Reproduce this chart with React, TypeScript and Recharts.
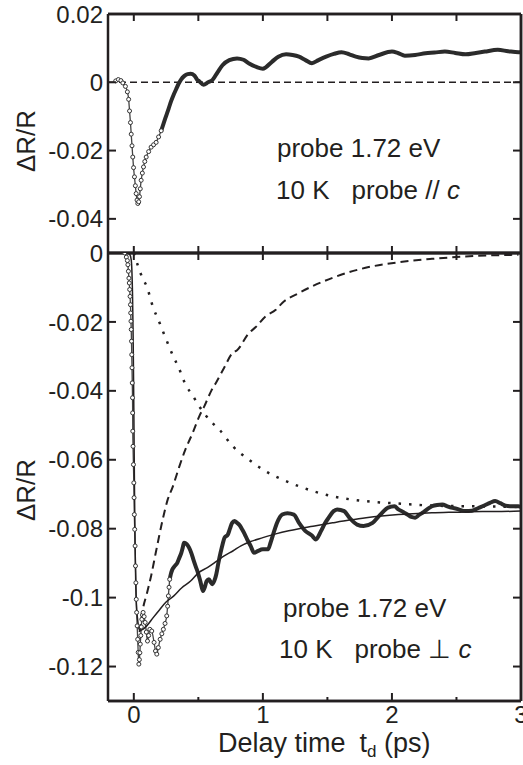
import React from "react";
import { ComposedChart, Line, XAxis, YAxis, ReferenceLine } from "recharts";

const INK = "#231f20";
const FONT = '"Liberation Sans", Arial, Helvetica, sans-serif';

// axes
const timeDomain = [-0.2, 3];
const timeTicks = [0, 0.5, 1, 1.5, 2, 2.5, 3];
const topYDomain = [-0.05, 0.02];
const topYTicks = [0.02, 0, -0.02, -0.04];
const bottomYDomain = [-0.13, 0];
const bottomYTicks = [0, -0.02, -0.04, -0.06, -0.08, -0.1, -0.12];

// probe // c  -> [delay (ps), dR/R]
const parOnset = [
  [-0.14, 0.0004], [-0.12, 0.0008], [-0.1, 0.0005], [-0.085, -0.0002], [-0.065, -0.0012],
  [-0.05, -0.0028], [-0.04, -0.005], [-0.033, -0.0084], [-0.026, -0.0118], [-0.02, -0.0152],
  [-0.014, -0.0186], [-0.008, -0.0219], [-0.002, -0.025], [0.005, -0.0277], [0.012, -0.0303],
  [0.018, -0.0326], [0.025, -0.0345], [0.031, -0.0355], [0.038, -0.035], [0.044, -0.0335],
  [0.05, -0.0312], [0.057, -0.0287], [0.066, -0.0266], [0.075, -0.0248], [0.085, -0.0232],
  [0.096, -0.0219], [0.115, -0.0203], [0.134, -0.019], [0.153, -0.0183], [0.173, -0.0176],
  [0.192, -0.016], [0.212, -0.0142],
];
const parTail = [
  [0.212, -0.0142], [0.231, -0.012], [0.25, -0.0099], [0.27, -0.0077], [0.289, -0.0055],
  [0.308, -0.0037], [0.327, -0.0021], [0.346, -0.0005], [0.366, 0.0008], [0.39, 0.0018],
  [0.417, 0.0024], [0.44, 0.0025], [0.469, 0.002], [0.49, 0.0008], [0.507, 0.0003],
  [0.54, -0.0007], [0.575, 0.0], [0.61, 0.0007], [0.65, 0.003], [0.687, 0.005],
  [0.74, 0.0065], [0.8, 0.007], [0.85, 0.0066], [0.893, 0.0055], [0.95, 0.0045],
  [1.0, 0.004], [1.07, 0.006], [1.12, 0.0075], [1.18, 0.0082], [1.23, 0.008],
  [1.28, 0.0075], [1.33, 0.0065], [1.38, 0.0056], [1.43, 0.0065], [1.49, 0.0075],
  [1.55, 0.0083], [1.61, 0.0088], [1.67, 0.0082], [1.72, 0.0075], [1.77, 0.0071],
  [1.82, 0.007], [1.9, 0.008], [2.0, 0.009], [2.05, 0.0085], [2.1, 0.0078],
  [2.18, 0.008], [2.26, 0.0085], [2.33, 0.0087], [2.41, 0.009], [2.49, 0.0086],
  [2.57, 0.0082], [2.65, 0.0086], [2.72, 0.009], [2.82, 0.0095], [2.9, 0.0091],
  [2.98, 0.0088], [3.0, 0.0089],
];

// probe ⊥ c
const perpOnset = [
  [-0.085, 0.0005], [-0.07, 0.0], [-0.058, -0.0012], [-0.05, -0.0022], [-0.046, -0.0034],
  [-0.042, -0.0053], [-0.038, -0.0073], [-0.035, -0.0087], [-0.032, -0.0106], [-0.029, -0.0126],
  [-0.026, -0.015], [-0.024, -0.0174], [-0.022, -0.0198], [-0.02, -0.0222], [-0.018, -0.0256],
  [-0.016, -0.0295], [-0.014, -0.0333], [-0.012, -0.0377], [-0.01, -0.042], [-0.009, -0.0464],
  [-0.008, -0.0517], [-0.006, -0.0561], [-0.003, -0.0614], [0.0, -0.0667], [0.002, -0.071],
  [0.004, -0.0759], [0.007, -0.0802], [0.01, -0.085], [0.013, -0.0908], [0.016, -0.0957],
  [0.019, -0.1005], [0.022, -0.1043], [0.026, -0.1082], [0.03, -0.1121], [0.034, -0.1159],
  [0.039, -0.1193], [0.043, -0.118], [0.047, -0.116], [0.05, -0.1135], [0.054, -0.111],
  [0.058, -0.1085], [0.062, -0.1063], [0.067, -0.105], [0.072, -0.1043], [0.08, -0.1055],
  [0.088, -0.1072], [0.097, -0.11], [0.106, -0.1126], [0.115, -0.111], [0.124, -0.1092],
  [0.139, -0.1097], [0.157, -0.113], [0.168, -0.1155], [0.178, -0.1164], [0.19, -0.1145],
  [0.204, -0.1121], [0.217, -0.1105], [0.229, -0.1092], [0.242, -0.1075], [0.255, -0.1053],
  [0.262, -0.1025], [0.268, -0.0995], [0.273, -0.097], [0.278, -0.0947],
];
const perpTail = [
  [0.278, -0.0947], [0.288, -0.093], [0.299, -0.0918], [0.318, -0.0908], [0.337, -0.0899],
  [0.352, -0.0885], [0.368, -0.087], [0.379, -0.0855], [0.389, -0.0841], [0.41, -0.0845],
  [0.428, -0.0855], [0.445, -0.087], [0.461, -0.0889], [0.48, -0.091], [0.497, -0.0928],
  [0.517, -0.0955], [0.536, -0.0981], [0.55, -0.097], [0.564, -0.0952], [0.582, -0.0947],
  [0.595, -0.0955], [0.608, -0.0961], [0.625, -0.095], [0.639, -0.0932], [0.655, -0.09],
  [0.672, -0.087], [0.688, -0.0845], [0.703, -0.0826], [0.729, -0.0817], [0.745, -0.08],
  [0.762, -0.0783], [0.78, -0.0778], [0.8, -0.0783], [0.82, -0.079], [0.839, -0.0802],
  [0.858, -0.0815], [0.878, -0.0831], [0.905, -0.085], [0.932, -0.087], [0.96, -0.0865],
  [1.0, -0.086], [1.04, -0.086], [1.06, -0.084], [1.085, -0.081], [1.11, -0.0783],
  [1.15, -0.0759], [1.19, -0.0755], [1.24, -0.0759], [1.28, -0.0783], [1.33, -0.0807],
  [1.38, -0.082], [1.41, -0.0831], [1.45, -0.0807], [1.48, -0.0785], [1.51, -0.0768],
  [1.545, -0.075], [1.575, -0.0744], [1.63, -0.0749], [1.67, -0.0768], [1.73, -0.0788],
  [1.78, -0.0792], [1.85, -0.0783], [1.91, -0.0759], [1.97, -0.0739], [2.02, -0.0735],
  [2.05, -0.0744], [2.09, -0.0752], [2.12, -0.0759], [2.15, -0.0766], [2.18, -0.0768],
  [2.21, -0.076], [2.245, -0.0752], [2.28, -0.0742], [2.31, -0.0735], [2.35, -0.0731],
  [2.39, -0.073], [2.43, -0.0735], [2.46, -0.0739], [2.5, -0.0742], [2.57, -0.0749],
  [2.62, -0.0748], [2.67, -0.074], [2.72, -0.0732], [2.76, -0.0725], [2.8, -0.072],
  [2.84, -0.0726], [2.88, -0.0733], [2.93, -0.0735], [2.98, -0.0735], [3.0, -0.0737],
];
const perpFit = [
  [-0.05, 0.0], [-0.03, -0.0005], [-0.02, -0.002], [-0.015, -0.005], [-0.01, -0.012],
  [-0.005, -0.025], [0.0, -0.045], [0.005, -0.068], [0.01, -0.085], [0.015, -0.096],
  [0.02, -0.102], [0.03, -0.1065], [0.04, -0.109], [0.05, -0.1095], [0.07, -0.1092],
  [0.1, -0.1082], [0.15, -0.1058], [0.2, -0.1035], [0.25, -0.1013], [0.31, -0.0995],
  [0.37, -0.0972], [0.44, -0.0952], [0.5, -0.0928], [0.57, -0.0913], [0.64, -0.0895],
  [0.7, -0.0879], [0.77, -0.0864], [0.83, -0.085], [0.9, -0.0838], [1.0, -0.0826],
  [1.1, -0.0815], [1.2, -0.0806], [1.28, -0.08], [1.4, -0.0792], [1.54, -0.0783],
  [1.67, -0.0775], [1.8, -0.0768], [1.92, -0.0763], [2.05, -0.0759], [2.2, -0.0756],
  [2.31, -0.0754], [2.5, -0.0752], [2.7, -0.075], [2.85, -0.075], [3.0, -0.0749],
];
const perpRise = [
  [0.045, -0.11], [0.07, -0.1034], [0.1, -0.099], [0.134, -0.0937], [0.17, -0.087],
  [0.224, -0.0773], [0.263, -0.0715], [0.3, -0.068], [0.353, -0.0619], [0.4, -0.057],
  [0.456, -0.0522], [0.507, -0.0474], [0.546, -0.0445], [0.6, -0.04], [0.636, -0.0377],
  [0.7, -0.0333], [0.765, -0.029], [0.8, -0.0282], [0.893, -0.0232], [0.945, -0.0215],
  [1.02, -0.0184], [1.1, -0.0165], [1.15, -0.0145], [1.28, -0.0116], [1.54, -0.0072],
  [1.795, -0.0043], [2.05, -0.0027], [2.31, -0.0017], [2.57, -0.001], [2.98, -0.0005],
];
const perpDecay = [
  [0.0, 0.0], [0.07, -0.0075], [0.1, -0.0097], [0.147, -0.0155], [0.2, -0.0203],
  [0.25, -0.025], [0.3, -0.0295], [0.35, -0.0335], [0.405, -0.0385], [0.45, -0.041],
  [0.507, -0.0445], [0.6, -0.049], [0.662, -0.0512], [0.765, -0.056], [0.893, -0.06],
  [1.02, -0.0633], [1.15, -0.0657], [1.28, -0.0677], [1.54, -0.0706], [1.795, -0.072],
  [2.05, -0.0727], [2.31, -0.0733], [2.6, -0.0735], [2.82, -0.0736], [3.0, -0.0737],
];

const pts = (arr: number[][]) => arr.map(([t, v]) => ({ t, v }));

const tickText = { fontFamily: FONT, fontSize: 24, fill: INK };

const LeftTick = ({ x, y, payload }: any) => (
  <g>
    <line x1={x} y1={y} x2={x + 8} y2={y} stroke={INK} strokeWidth={2} />
    <text x={x - 5} y={y} dy="0.36em" textAnchor="end" {...tickText}>
      {String(payload.value)}
    </text>
  </g>
);

const RightTick = ({ x, y }: any) => (
  <line x1={x} y1={y} x2={x - 8} y2={y} stroke={INK} strokeWidth={2} />
);

const InTickDown = ({ x, y }: any) => (
  <line x1={x} y1={y} x2={x} y2={y + 7} stroke={INK} strokeWidth={2} />
);

const InTickUp = ({ x, y }: any) => (
  <line x1={x} y1={y} x2={x} y2={y - 7} stroke={INK} strokeWidth={2} />
);

const BottomTimeTick = ({ x, y, payload }: any) => {
  const major = Number.isInteger(payload.value);
  return (
    <g>
      <line x1={x} y1={y} x2={x} y2={y - (major ? 8 : 4)} stroke={INK} strokeWidth={2} />
      {major && (
        <text x={x} y={y + 22} textAnchor="middle" {...tickText}>
          {String(payload.value)}
        </text>
      )}
    </g>
  );
};

const axisLine = { stroke: INK, strokeWidth: 2.5 };

function Frame({ yDomain, yTicks, bottomTick, bottomHeight }: any) {
  return [
    <XAxis key="xb" xAxisId="b" dataKey="t" type="number" domain={timeDomain} allowDataOverflow
      ticks={timeTicks} interval={0} tickSize={0} tickMargin={0} axisLine={axisLine} tickLine={false}
      tick={bottomTick} height={bottomHeight} />,
    <XAxis key="xt" xAxisId="t" orientation="top" dataKey="t" type="number" domain={timeDomain}
      allowDataOverflow ticks={timeTicks} interval={0} tickSize={0} tickMargin={0} axisLine={axisLine}
      tickLine={false} tick={InTickDown} height={1} />,
    <YAxis key="yl" yAxisId="l" type="number" domain={yDomain} allowDataOverflow ticks={yTicks}
      interval={0} tickSize={0} tickMargin={0} axisLine={axisLine} tickLine={false} tick={LeftTick} width={108} />,
    <YAxis key="yr" yAxisId="r" orientation="right" type="number" domain={yDomain} allowDataOverflow
      ticks={yTicks} interval={0} tickSize={0} tickMargin={0} axisLine={axisLine} tickLine={false}
      tick={RightTick} width={1} />,
    // plot frame
    <ReferenceLine key="f1" xAxisId="b" yAxisId="l" y={yDomain[0]} stroke={INK} strokeWidth={2.5} />,
    <ReferenceLine key="f2" xAxisId="b" yAxisId="l" y={yDomain[1]} stroke={INK} strokeWidth={2.5} />,
    <ReferenceLine key="f3" xAxisId="b" yAxisId="l" x={timeDomain[1]} stroke={INK} strokeWidth={2.5} />,
  ];
}

const dotStyle = { r: 2, fill: "#fff", stroke: "#333", strokeWidth: 1 };

export default function App() {
  const label = { fontFamily: FONT, fill: INK };
  return (
    <div style={{ position: "absolute", left: 0, top: 0, width: 523, height: 765, background: "#fff", overflow: "hidden" }}>
      <div style={{ position: "absolute", left: 0, top: 0 }}>
        <ComposedChart width={523} height={260} margin={{ top: 13, right: 1, bottom: 0, left: 0 }}>
          {Frame({ yDomain: topYDomain, yTicks: topYTicks, bottomTick: InTickUp, bottomHeight: 7 })}
          <ReferenceLine xAxisId="b" yAxisId="l" y={0} stroke={INK} strokeWidth={1.5} strokeDasharray="7 4" />
          <Line data={pts(parTail)} dataKey="v" xAxisId="b" yAxisId="l" type="monotone" stroke="#2b2b2b"
            strokeWidth={4} dot={false} isAnimationActive={false} />
          <Line data={pts(parOnset)} dataKey="v" xAxisId="b" yAxisId="l" type="monotone" stroke="#444"
            strokeWidth={1.3} dot={dotStyle} isAnimationActive={false} />
          <Line data={pts(parTail)} dataKey="v" xAxisId="t" yAxisId="r" stroke="none" dot={false}
            isAnimationActive={false} />
        </ComposedChart>
      </div>
      <div style={{ position: "absolute", left: 0, top: 0 }}>
        <ComposedChart width={523} height={765} margin={{ top: 252, right: 1, bottom: 0, left: 0 }}>
          {Frame({ yDomain: bottomYDomain, yTicks: bottomYTicks, bottomTick: BottomTimeTick, bottomHeight: 64 })}
          <Line data={pts(perpRise)} dataKey="v" xAxisId="b" yAxisId="l" type="monotone" stroke={INK}
            strokeWidth={2} strokeDasharray="8 5" dot={false} isAnimationActive={false} />
          <Line data={pts(perpDecay)} dataKey="v" xAxisId="b" yAxisId="l" type="monotone" stroke={INK}
            strokeWidth={2.5} strokeDasharray="2.5 8" dot={false} isAnimationActive={false} />
          <Line data={pts(perpTail)} dataKey="v" xAxisId="b" yAxisId="l" type="monotone" stroke="#2b2b2b"
            strokeWidth={4} dot={false} isAnimationActive={false} />
          <Line data={pts(perpOnset)} dataKey="v" xAxisId="b" yAxisId="l" type="monotone" stroke="#444"
            strokeWidth={1.3} dot={dotStyle} isAnimationActive={false} />
          <Line data={pts(perpFit)} dataKey="v" xAxisId="b" yAxisId="l" type="monotone" stroke={INK}
            strokeWidth={1.5} dot={false} isAnimationActive={false} />
          <Line data={pts(perpFit)} dataKey="v" xAxisId="t" yAxisId="r" stroke="none" dot={false}
            isAnimationActive={false} />
        </ComposedChart>
      </div>
      <svg width={523} height={765} style={{ position: "absolute", left: 0, top: 0, pointerEvents: "none" }}>
        <text transform="translate(35,141) rotate(-90)" textAnchor="middle" fontSize={26} {...label}>ΔR/R</text>
        <text transform="translate(35,490) rotate(-90)" textAnchor="middle" fontSize={26} {...label}>ΔR/R</text>
        <text x={277} y={157} fontSize={26} {...label}>probe 1.72 eV</text>
        <text x={276} y={199} fontSize={26} {...label}>
          10 K<tspan dx={22}>probe // </tspan><tspan fontStyle="italic">c</tspan>
        </text>
        <text x={283} y={617} fontSize={26} {...label}>probe 1.72 eV</text>
        <text x={279} y={658} fontSize={26} {...label}>
          10 K<tspan dx={22}>probe ⊥ </tspan><tspan fontStyle="italic">c</tspan>
        </text>
        <text x={218} y={752} fontSize={27} {...label}>
          Delay time<tspan dx={14}>t</tspan><tspan fontSize={17} dy={5}>d</tspan><tspan dy={-5}> (ps)</tspan>
        </text>
      </svg>
    </div>
  );
}
